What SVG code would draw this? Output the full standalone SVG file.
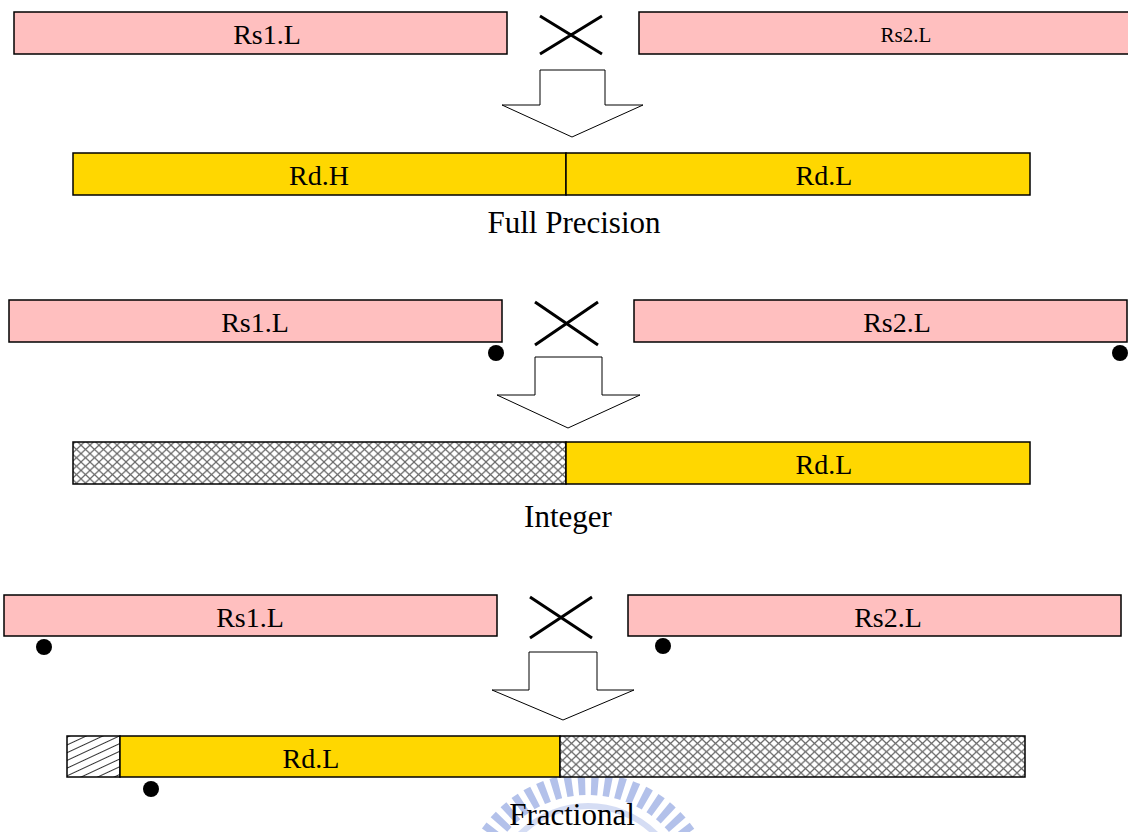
<svg xmlns="http://www.w3.org/2000/svg" width="1128" height="832" viewBox="0 0 1128 832">
  <style>
    .src { fill: #FFBFBF; stroke: #000; stroke-width: 1.5; }
    .dst { fill: #FFD700; stroke: #000; stroke-width: 1.5; }
    .mesh { fill: url(#crosshatch); stroke: #000; stroke-width: 1.5; }
    .diag { fill: url(#diaghatch); stroke: #000; stroke-width: 1.5; }
    .lbl { font-family: "Liberation Serif", "Times New Roman", serif; font-size: 28px; fill: #000; text-anchor: middle; }
    .small { font-size: 21px; }
    .cap { font-family: "Liberation Serif", "Times New Roman", serif; font-size: 31px; fill: #000; text-anchor: middle; }
    .times { stroke: #000; stroke-width: 3; fill: none; }
    .arrow { fill: #fff; stroke: #000; stroke-width: 1; }
    .dot { fill: #000; }
  </style>
  <defs>
    <pattern id="crosshatch" patternUnits="userSpaceOnUse" width="9" height="8.4">
      <rect width="9" height="8.4" fill="#fff"/>
      <path d="M0,0 L9,8.4 M9,0 L0,8.4" stroke="#6a6a6a" stroke-width="1.2" fill="none"/>
    </pattern>
    <pattern id="diaghatch" patternUnits="userSpaceOnUse" width="10" height="7" patternTransform="rotate(-25)">
      <rect width="10" height="7" fill="#fff"/>
      <path d="M0,3.5 L10,3.5" stroke="#333" stroke-width="1" fill="none"/>
    </pattern>
  </defs>

  <!-- faint seal in the background -->
  <g id="seal" opacity="0.7">
    <circle cx="588" cy="902" r="118" fill="none" stroke="#94A8E2" stroke-width="22" stroke-dasharray="7 6"/>
    <circle cx="588" cy="902" r="96" fill="none" stroke="#C4CFF0" stroke-width="6"/>
  </g>

  <!-- Full precision -->
  <g id="fp-rs1"><rect class="src" x="14" y="12" width="493" height="42"/><text class="lbl" x="267" y="44">Rs1.L</text></g>
  <g id="fp-mul"><path class="times" d="M540,16 L602,54 M540,54 L602,16"/></g>
  <g id="fp-rs2"><rect class="src" x="639" y="12" width="490" height="42"/><text class="lbl small" x="906" y="42">Rs2.L</text></g>
  <g id="fp-arrow"><path class="arrow" d="M540,70 H605 V105 H643 L572,137 L502,105 H540 Z"/></g>
  <g id="fp-rd">
    <rect class="dst" x="73" y="153" width="493" height="42"/>
    <rect class="dst" x="566" y="153" width="464" height="42"/>
    <text class="lbl" x="319" y="185">Rd.H</text>
    <text class="lbl" x="824" y="185">Rd.L</text>
  </g>
  <g id="fp-cap"><text class="cap" x="574" y="233">Full Precision</text></g>

  <!-- Integer -->
  <g id="int-rs1"><rect class="src" x="9" y="300" width="493" height="42"/><text class="lbl" x="255" y="332">Rs1.L</text><circle class="dot" cx="496" cy="353" r="8"/></g>
  <g id="int-mul"><path class="times" d="M535,302 L598,345 M535,345 L598,302"/></g>
  <g id="int-rs2"><rect class="src" x="634" y="300" width="493" height="42"/><text class="lbl" x="897" y="332">Rs2.L</text><circle class="dot" cx="1120" cy="353" r="8"/></g>
  <g id="int-arrow"><path class="arrow" d="M535,357 H602 V395 H640 L568,428 L497,395 H535 Z"/></g>
  <g id="int-rd">
    <rect class="mesh" x="73" y="442" width="493" height="42"/>
    <rect class="dst" x="566" y="442" width="464" height="42"/>
    <text class="lbl" x="824" y="474">Rd.L</text>
  </g>
  <g id="int-cap"><text class="cap" x="568" y="527">Integer</text></g>

  <!-- Fractional -->
  <g id="fr-rs1"><rect class="src" x="4" y="595" width="493" height="41"/><text class="lbl" x="250" y="627">Rs1.L</text><circle class="dot" cx="44" cy="647" r="8"/></g>
  <g id="fr-mul"><path class="times" d="M530,597 L592,638 M530,638 L592,597"/></g>
  <g id="fr-rs2"><rect class="src" x="628" y="595" width="493" height="41"/><text class="lbl" x="888" y="627">Rs2.L</text><circle class="dot" cx="663" cy="646" r="8"/></g>
  <g id="fr-arrow"><path class="arrow" d="M529,652 H597 V690 H634 L563,720 L492,690 H529 Z"/></g>
  <g id="fr-rd">
    <rect class="diag" x="67" y="736" width="53" height="41"/>
    <rect class="dst" x="120" y="736" width="440" height="41"/>
    <rect class="mesh" x="560" y="736" width="465" height="41"/>
    <text class="lbl" x="311" y="768">Rd.L</text>
    <circle class="dot" cx="151" cy="789" r="8"/>
  </g>
  <g id="fr-cap"><text class="cap" x="572" y="825">Fractional</text></g>
</svg>
